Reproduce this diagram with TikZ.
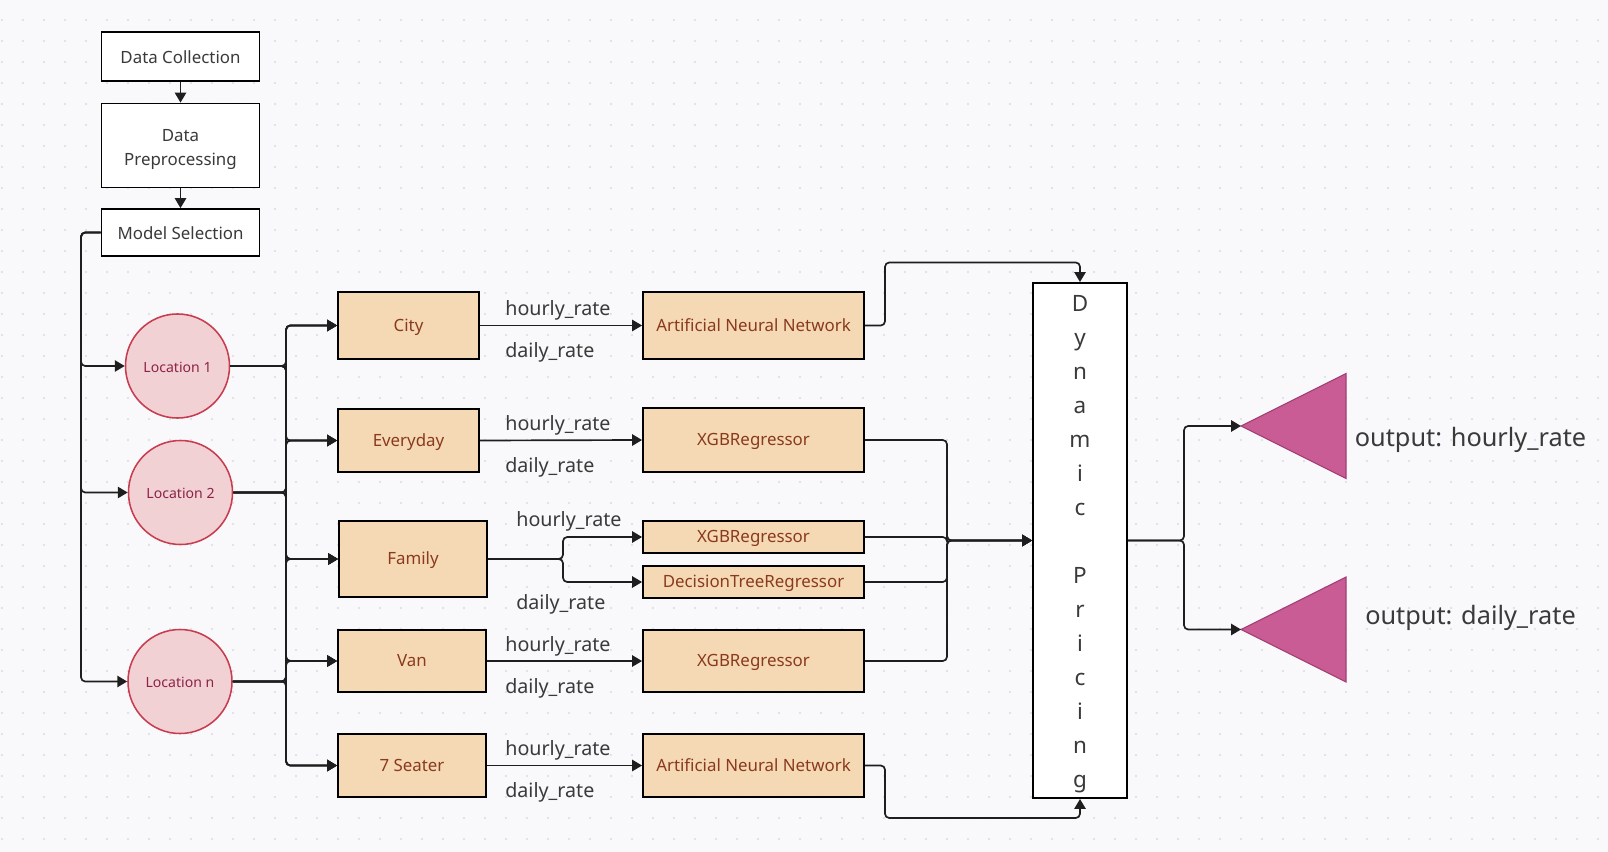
\documentclass[tikz,border=0pt]{standalone}
\usepackage{fontspec}
\setmainfont{Noto Sans}
\usepackage{xcolor}
\usepackage{tikz}
\usetikzlibrary{arrows.meta,positioning,calc}

\definecolor{canvas}{HTML}{F9F9FB}
\definecolor{griddot}{HTML}{DADAE0}
\definecolor{peach}{HTML}{F5D9B5}
\definecolor{rust}{HTML}{8A3A1E}
\definecolor{rosefill}{HTML}{F2D1D5}
\definecolor{roseline}{HTML}{C83C50}
\definecolor{rosetext}{HTML}{8C2346}
\definecolor{outfill}{HTML}{C95C94}
\definecolor{outedge}{HTML}{A43F74}
\definecolor{inkgray}{HTML}{3A3A3A}
\definecolor{wire}{HTML}{1E1E1E}

\begin{document}
\begin{tikzpicture}[x=0.025cm, y=-0.025cm,
    stage/.style={draw=black, line width=1.3pt, fill=white, minimum width=3.95cm,
        inner sep=2pt, align=center, text=inkgray, font=\fontsize{12}{17}\selectfont,
        text height=0.95em, text depth=0pt},
    place/.style={circle, draw=roseline, line width=1.1pt, fill=rosefill,
        minimum size=2.6cm, inner sep=0pt, text=rosetext, font=\fontsize{10}{12}\selectfont,
        text height=0.88em, text depth=0.02em},
    cat/.style={draw=black, line width=1.3pt, fill=peach, minimum width=3.7cm,
        inner sep=2pt, text=rust, font=\fontsize{12}{14}\selectfont,
        text height=0.85em, text depth=0.03em},
    algo/.style={cat, minimum width=5.525cm},
    conn/.style={draw=wire, line width=1.2pt, rounded corners=3pt},
    arr/.style={conn, -{Triangle[length=7pt,width=8pt]}},
    rate/.style={inner sep=0pt, text=inkgray, font=\fontsize{14}{16}\selectfont},
    outlbl/.style={inner sep=0pt, text=inkgray, font=\fontsize{18}{20}\selectfont}]

    % Canvas with dot grid
    \fill[canvas] (0,0) rectangle (1608,852);
    \useasboundingbox (0,0) rectangle (1608,852);
    \foreach \i in {0,...,76} {
        \foreach \j in {0,...,40} {
            \fill[griddot] (2+21*\i, 20+21*\j) circle (0.03cm);
        }
    }

    % Pipeline stages
    \node[stage, minimum height=1.225cm] (collect) at (180.5,56.5) {Data Collection};
    \node[stage, minimum height=2.1cm, text height=28.5pt] (prep) at (180.5,145.5) {Data\\Preprocessing};
    \node[stage, minimum height=1.175cm] (select) at (180.5,232.5) {Model Selection};
    \draw[arr] (collect.south) -- (prep.north);
    \draw[arr] (prep.south) -- (select.north);

    % Locations
    \node[place] (loc1) at (177.5,366) {Location 1};
    \node[place] (loc2) at (180.5,492.5) {Location 2};
    \node[place] (locn) at (180,681.5) {Location n};
    \coordinate (lbus) at (81,232.5);
    \foreach \l in {loc1,loc2,locn} {
        \draw[arr] (select.west) -| (lbus |- \l.west) -- (\l.west);
    }

    % Car categories
    \node[cat, minimum width=3.525cm, minimum height=1.675cm] (city) at (408.5,325.5) {City};
    \node[cat, minimum width=3.525cm, minimum height=1.575cm] (everyday) at (408.5,440.5) {Everyday};
    \node[cat, minimum height=1.9cm] (family) at (413,559) {Family};
    \node[cat, minimum height=1.55cm] (van) at (412,661) {Van};
    \node[cat, minimum height=1.575cm] (seater) at (412,765.5) {7 Seater};
    \coordinate (rbus) at (286,0);
    \foreach \l in {loc1,loc2,locn} {
        \foreach \c in {city,everyday,family,van,seater} {
            \draw[arr] (\l.east) -| (rbus |- \c.west) -- (\c.west);
        }
    }

    % Regressors
    \node[algo, minimum height=1.675cm] (ann1) at (753.5,325.5) {Artificial Neural Network};
    \node[algo, minimum height=1.6cm] (xgb1) at (753.5,440) {XGBRegressor};
    \node[algo, minimum height=0.8cm] (xgb2) at (753.5,537) {XGBRegressor};
    \node[algo, minimum height=0.8cm] (dtr) at (753.5,582) {DecisionTreeRegressor};
    \node[algo, minimum height=1.55cm] (xgb3) at (753.5,661) {XGBRegressor};
    \node[algo, minimum height=1.575cm] (ann2) at (753.5,765.5) {Artificial Neural Network};

    % Targets on each link
    \foreach \c/\m in {city/ann1, everyday/xgb1, van/xgb3, seater/ann2} {
        \draw[arr] (\c.east) -- (\m.west);
        \node[rate, anchor=base west] (\c h) at ($(\m.west)+(-137,-10)$) {hourly\_rate};
        \node[rate, anchor=base west] (\c d) at ($(\m.west)+(-137,32)$) {daily\_rate};
    }
    \coordinate (fsplit) at (563,559);
    \draw[arr] (family.east) -- (fsplit) |- (xgb2.west);
    \draw[arr] (family.east) -- (fsplit) |- (dtr.west);
    \node[rate, anchor=base west] (familyh) at ($(xgb2.west)+(-126,-11)$) {hourly\_rate};
    \node[rate, anchor=base west] (familyd) at ($(dtr.west)+(-126,27.6)$) {daily\_rate};

    % Dynamic pricing
    \node[draw=black, line width=1.3pt, fill=white, minimum width=2.35cm,
        minimum height=12.875cm, inner sep=0pt] (dynp) at (1080,540.5) {};
    \node[inner sep=0pt, align=center, text=inkgray,
        font=\fontsize{16}{24.2}\selectfont] (dyntext) at (1080,544)
        {D\\y\\n\\a\\m\\i\\c\\\strut\\P\\r\\i\\c\\i\\n\\g};
    \coordinate (merge) at (947,0);
    \foreach \m in {xgb1,xgb2,dtr,xgb3} {
        \draw[arr] (\m.east) -| (merge |- dynp.west) -- (dynp.west);
    }
    \coordinate (topbend) at (885,262.5);
    \coordinate (botbend) at (885,818);
    \draw[arr] (ann1.east) -| (topbend) -| (dynp.north);
    \draw[arr] (ann2.east) -| (botbend) -| (dynp.south);

    % Outputs
    \coordinate (tip1) at (1241,426);
    \coordinate (tip2) at (1241,629.5);
    \coordinate (osplit) at (1184,540.5);
    \foreach \t in {tip1,tip2} {
        \fill[outfill, draw=outedge, line width=0.8pt]
            (\t) -- ($(\t)+(105,-52.5)$) -- ($(\t)+(105,52.5)$) -- cycle;
        \draw[arr] (dynp.east) -| (osplit |- \t) -- (\t);
    }
    \node[outlbl] (hourlyout) at (1470.5,440) {output: hourly\_rate};
    \node[outlbl] (dailyout) at (1470.5,618) {output: daily\_rate};
\end{tikzpicture}
\end{document}
